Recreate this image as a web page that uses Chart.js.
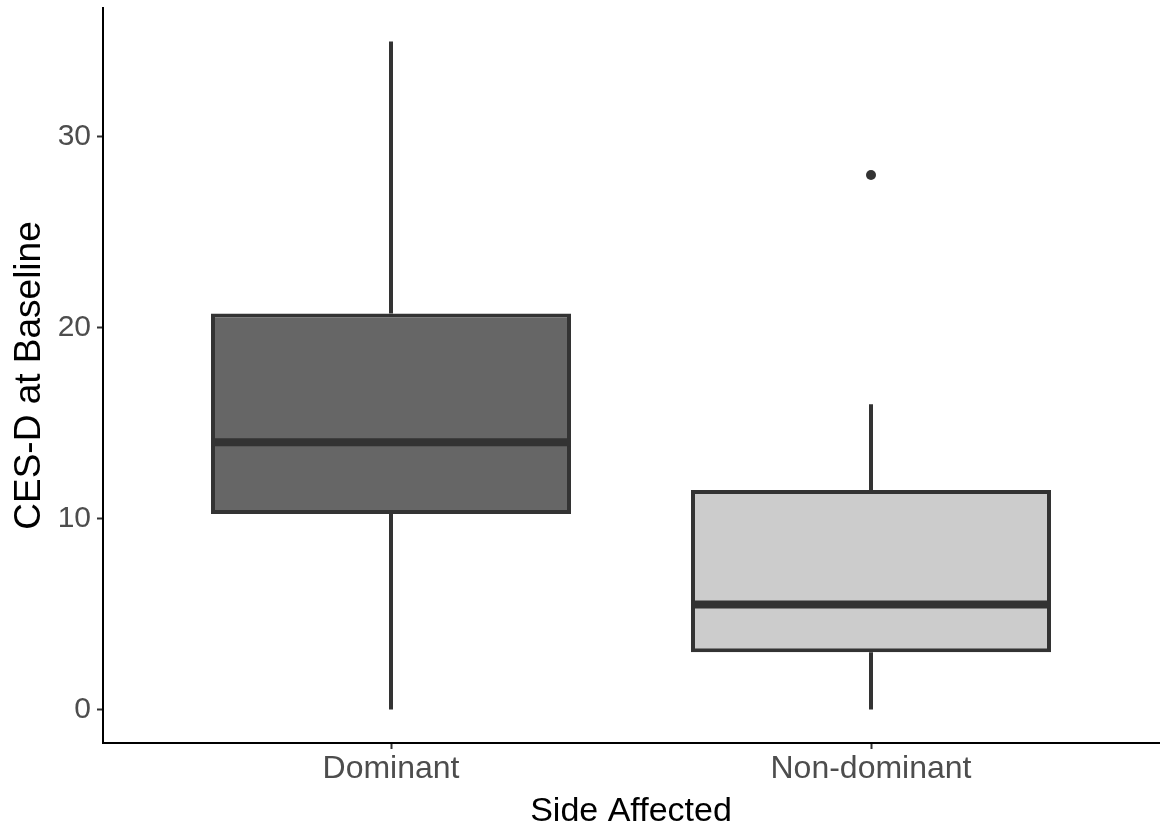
<!DOCTYPE html>
<html>
<head>
<meta charset="utf-8">
<title>CES-D at Baseline by Side Affected</title>
<script src="https://cdn.jsdelivr.net/npm/chart.js@4.4.1/dist/chart.umd.min.js"></script>
<style>
  html, body { margin: 0; padding: 0; background: #fff; }
  #wrap { width: 1164px; height: 829px; position: relative; }
</style>
</head>
<body>
<div id="wrap"><canvas id="boxChart"></canvas></div>
<script>
// data
var categories = ["Dominant", "Non-dominant"];
var lowerWhisker = [0, 0];
var q1 = [10.25, 3];
var median = [14, 5.5];
var q3 = [20.75, 11.5];
var upperWhisker = [35, 16];
var outliers = [[], [28]];
var yTicks = [0, 10, 20, 30];
var fills = ["#666666", "#cccccc"];

var BOX_WIDTH = 0.75; // in category units, like ggplot's default
var LINE = "#333333";
var FONT = "'Liberation Sans', Arial, Helvetica, sans-serif";

// boxes as floating bars
var boxData = categories.map(function (c, i) {
  return { x: i + 1, y: [q1[i], q3[i]] };
});

// whiskers: q3 -> upper, q1 -> lower, broken with nulls
var whiskerData = [];
categories.forEach(function (c, i) {
  whiskerData.push({ x: i + 1, y: q3[i] });
  whiskerData.push({ x: i + 1, y: upperWhisker[i] });
  whiskerData.push({ x: i + 1, y: null });
  whiskerData.push({ x: i + 1, y: lowerWhisker[i] });
  whiskerData.push({ x: i + 1, y: q1[i] });
  whiskerData.push({ x: i + 1, y: null });
});

// median segments across the box
var medianData = [];
categories.forEach(function (c, i) {
  medianData.push({ x: i + 1 - BOX_WIDTH / 2, y: median[i] });
  medianData.push({ x: i + 1 + BOX_WIDTH / 2, y: median[i] });
  medianData.push({ x: i + 1, y: null });
});

var outlierData = [];
categories.forEach(function (c, i) {
  outliers[i].forEach(function (v) {
    outlierData.push({ x: i + 1, y: v });
  });
});

var ctx = document.getElementById("boxChart").getContext("2d");
var boxChart = new Chart(ctx, {
  type: "bar",
  data: {
    datasets: [
      {
        type: "bar",
        data: boxData,
        backgroundColor: fills,
        borderColor: LINE,
        borderWidth: 4,
        borderSkipped: false,
        barPercentage: BOX_WIDTH,
        categoryPercentage: 1,
        order: 1,
      },
      {
        type: "line",
        data: whiskerData,
        borderColor: LINE,
        borderWidth: 4,
        borderCapStyle: "butt",
        pointRadius: 0,
        spanGaps: false,
        order: 2,
      },
      {
        type: "line",
        data: medianData,
        borderColor: LINE,
        borderWidth: 8,
        borderCapStyle: "butt",
        pointRadius: 0,
        spanGaps: false,
        order: 0,
      },
      {
        type: "line",
        data: outlierData,
        showLine: false,
        pointRadius: 5,
        pointBackgroundColor: LINE,
        pointBorderColor: LINE,
        pointBorderWidth: 0,
        order: 0,
      },
    ],
  },
  options: {
    responsive: true,
    maintainAspectRatio: false,
    animation: false,
    layout: { padding: { top: 8, right: 3, left: 0, bottom: 0 } },
    plugins: {
      legend: { display: false },
      tooltip: { enabled: false },
    },
    scales: {
      x: {
        type: "linear",
        min: 0.4,
        max: 2.6,
        offset: false,
        afterBuildTicks: function (scale) {
          scale.ticks = categories.map(function (c, i) {
            return { value: i + 1 };
          });
        },
        afterFit: function (scale) {
          scale.height = 86;
          scale.paddingLeft = 0;
          scale.paddingRight = 0;
        },
        grid: {
          display: true,
          offset: false,
          drawOnChartArea: false,
          drawTicks: true,
          tickLength: 6,
          tickColor: LINE,
          tickWidth: 2,
        },
        border: { display: true, color: "#000000", width: 2 },
        ticks: {
          padding: 1,
          color: "#4d4d4d",
          font: { family: FONT, size: 32 },
          callback: function (value, index) {
            return categories[index];
          },
        },
        title: {
          display: true,
          text: "Side Affected",
          color: "#000000",
          font: { family: FONT, size: 34, lineHeight: 1 },
          padding: { top: 0, bottom: 0 },
        },
      },
      y: {
        type: "linear",
        min: -1.75,
        max: 36.75,
        afterBuildTicks: function (scale) {
          scale.ticks = yTicks.map(function (v) {
            return { value: v };
          });
        },
        afterFit: function (scale) {
          scale.width = 103;
          scale.paddingTop = 0;
          scale.paddingBottom = 0;
        },
        grid: {
          display: true,
          drawOnChartArea: false,
          drawTicks: true,
          tickLength: 6,
          tickColor: LINE,
          tickWidth: 2,
        },
        border: { display: true, color: "#000000", width: 2 },
        ticks: {
          padding: 6,
          color: "#4d4d4d",
          font: { family: FONT, size: 30 },
        },
        title: {
          display: true,
          text: "CES-D at Baseline",
          color: "#000000",
          font: { family: FONT, size: 37 },
          padding: { top: 8, bottom: 0 },
        },
      },
    },
  },
});
</script>
</body>
</html>
